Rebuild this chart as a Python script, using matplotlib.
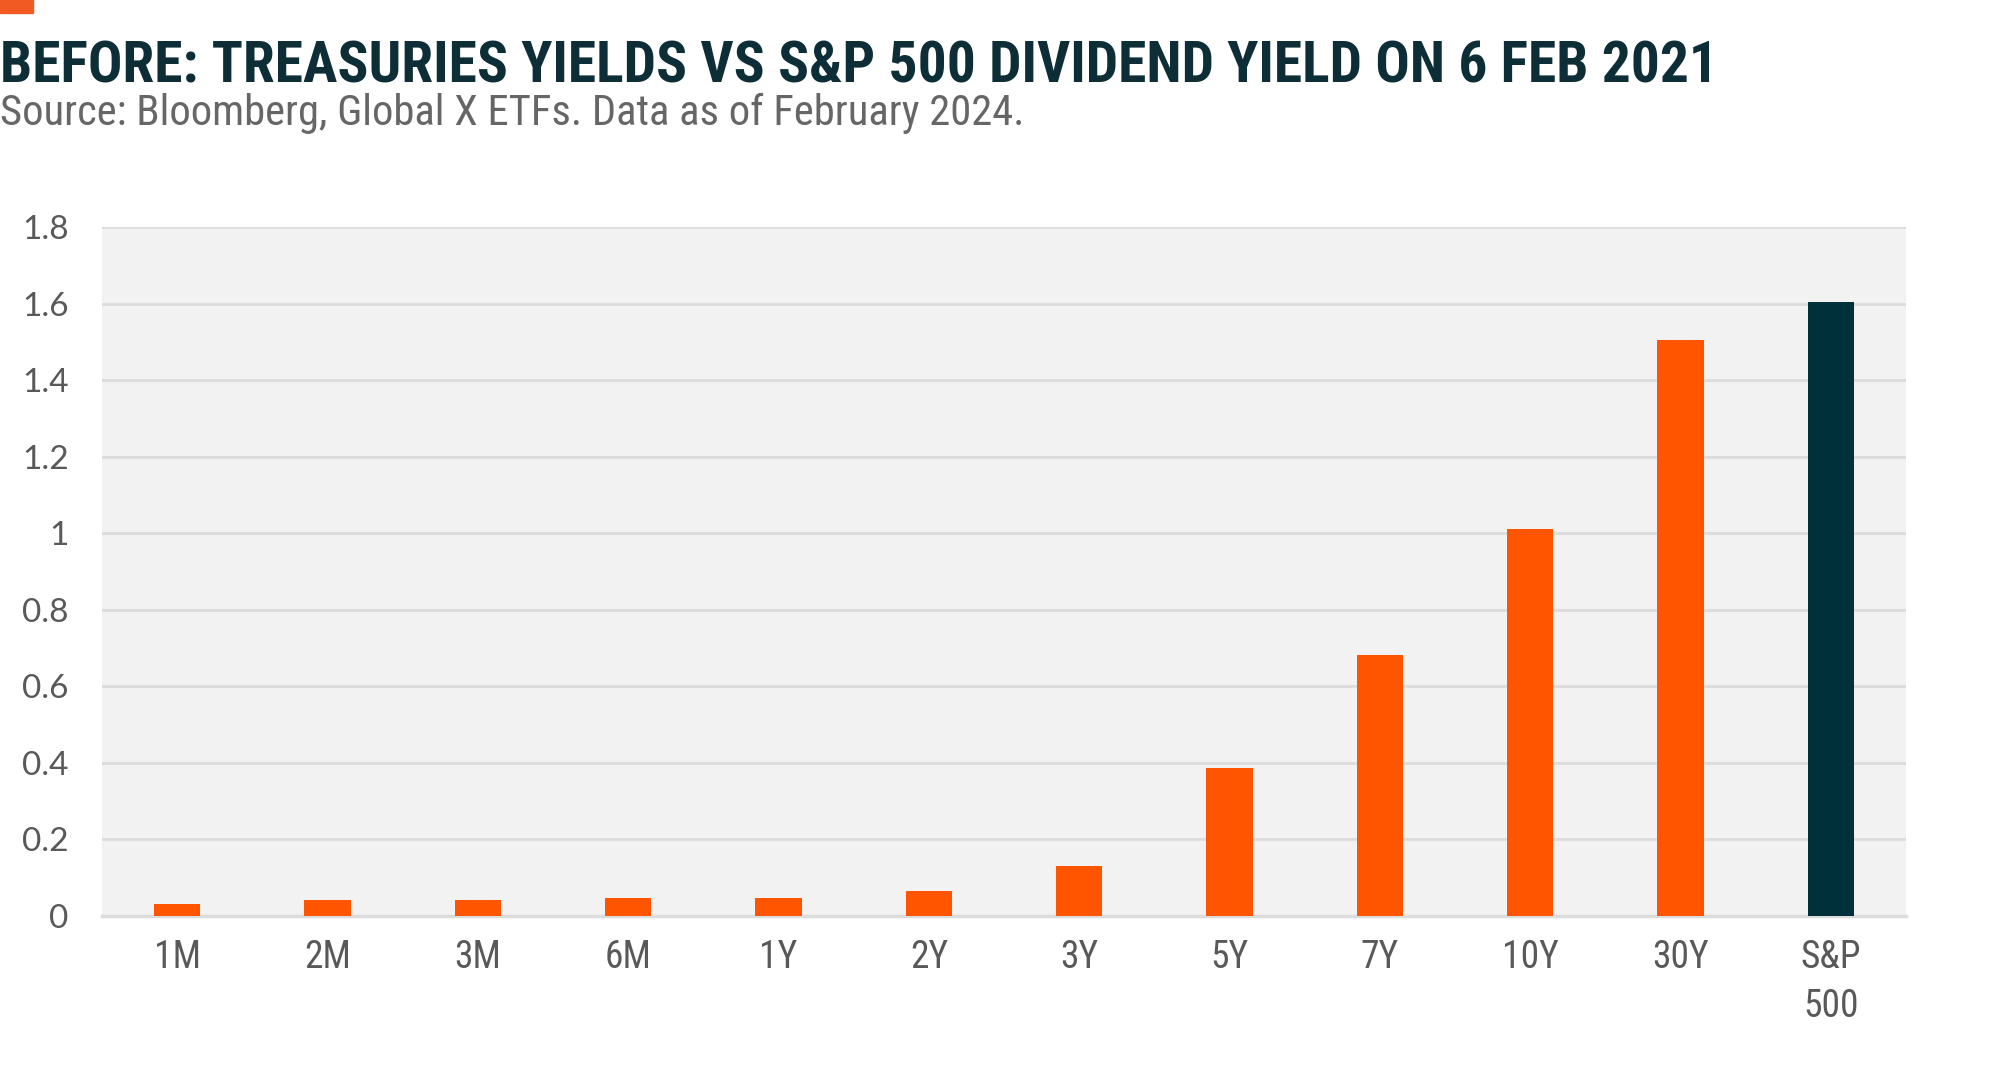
import matplotlib.pyplot as plt
from matplotlib import font_manager
import numpy as np

# Data (yield, %)
tenors = ["1M", "2M", "3M", "6M", "1Y", "2Y", "3Y", "5Y", "7Y", "10Y", "30Y", "S&P\n500"]
yields = [0.03, 0.04, 0.04, 0.045, 0.045, 0.065, 0.13, 0.385, 0.68, 1.01, 1.505, 1.605]
yticks = [0, 0.2, 0.4, 0.6, 0.8, 1, 1.2, 1.4, 1.6, 1.8]
ytick_labels = ["0", "0.2", "0.4", "0.6", "0.8", "1", "1.2", "1.4", "1.6", "1.8"]

ORANGE = "#FF5500"
DARK = "#00303A"

# pick a narrow face if one is around
installed = {f.name for f in font_manager.fontManager.ttflist}
narrow, stretch = "Roboto", "normal"
for name in ["Roboto Condensed", "Liberation Sans Narrow", "Open Sans Condensed"]:
    if name in installed:
        narrow = name
        break
else:
    path = font_manager.findfont(font_manager.FontProperties(family="DejaVu Sans", stretch="condensed"))
    if "Condensed" in path:
        narrow, stretch = "DejaVu Sans", "condensed"

fig = plt.figure(figsize=(20, 10.81), dpi=100)
ax = fig.add_axes([0.051, 0.153, 0.902, 0.637])

x = np.arange(len(tenors))
colors = [ORANGE] * (len(tenors) - 1) + [DARK]
ax.bar(x, yields, width=0.31, color=colors, zorder=3)

ax.set_facecolor("#F2F2F2")
ax.set_xlim(-0.5, len(tenors) - 0.5)
ax.set_ylim(0, 1.8)
ax.set_yticks(yticks)
ax.set_yticklabels(ytick_labels, fontsize=24, color="#595959", family="Lato")
ax.set_xticks(x)
ax.set_xticklabels(tenors, fontsize=27, color="#595959", family=narrow,
                   fontstretch=stretch, linespacing=1.4)
ax.tick_params(axis="y", length=0, pad=24)
ax.tick_params(axis="x", length=0, pad=17)
ax.grid(axis="y", color="#DCDCDC", linewidth=2, zorder=1)
for s in ["top", "right", "left"]:
    ax.spines[s].set_visible(False)
ax.spines["bottom"].set_color("#DCDCDC")
ax.spines["bottom"].set_linewidth(2.5)

# small orange marker top left
fig.patches.append(plt.Rectangle((0, 0.988), 0.0165, 0.012, transform=fig.transFigure,
                                 color="#F15A22", zorder=5))

title = fig.text(0.0, 0.924, "BEFORE: TREASURIES YIELDS VS S&P 500 DIVIDEND YIELD ON 6 FEB 2021",
                 fontsize=42, fontweight="bold", color="#0D2E36", family=narrow,
                 fontstretch=stretch, va="baseline")
sub = fig.text(0.0, 0.884, "Source: Bloomberg, Global X ETFs. Data as of February 2024.",
               fontsize=29, color="#666666", family=narrow, fontstretch=stretch, va="baseline")

# size the headings so they span the same width as in the original
renderer = fig.canvas.get_renderer()
for t, target in [(title, 1722), (sub, 1027)]:
    w = t.get_window_extent(renderer).width
    t.set_fontsize(t.get_fontsize() * target / w)

fig.savefig("out.png", dpi=100, facecolor="white")
